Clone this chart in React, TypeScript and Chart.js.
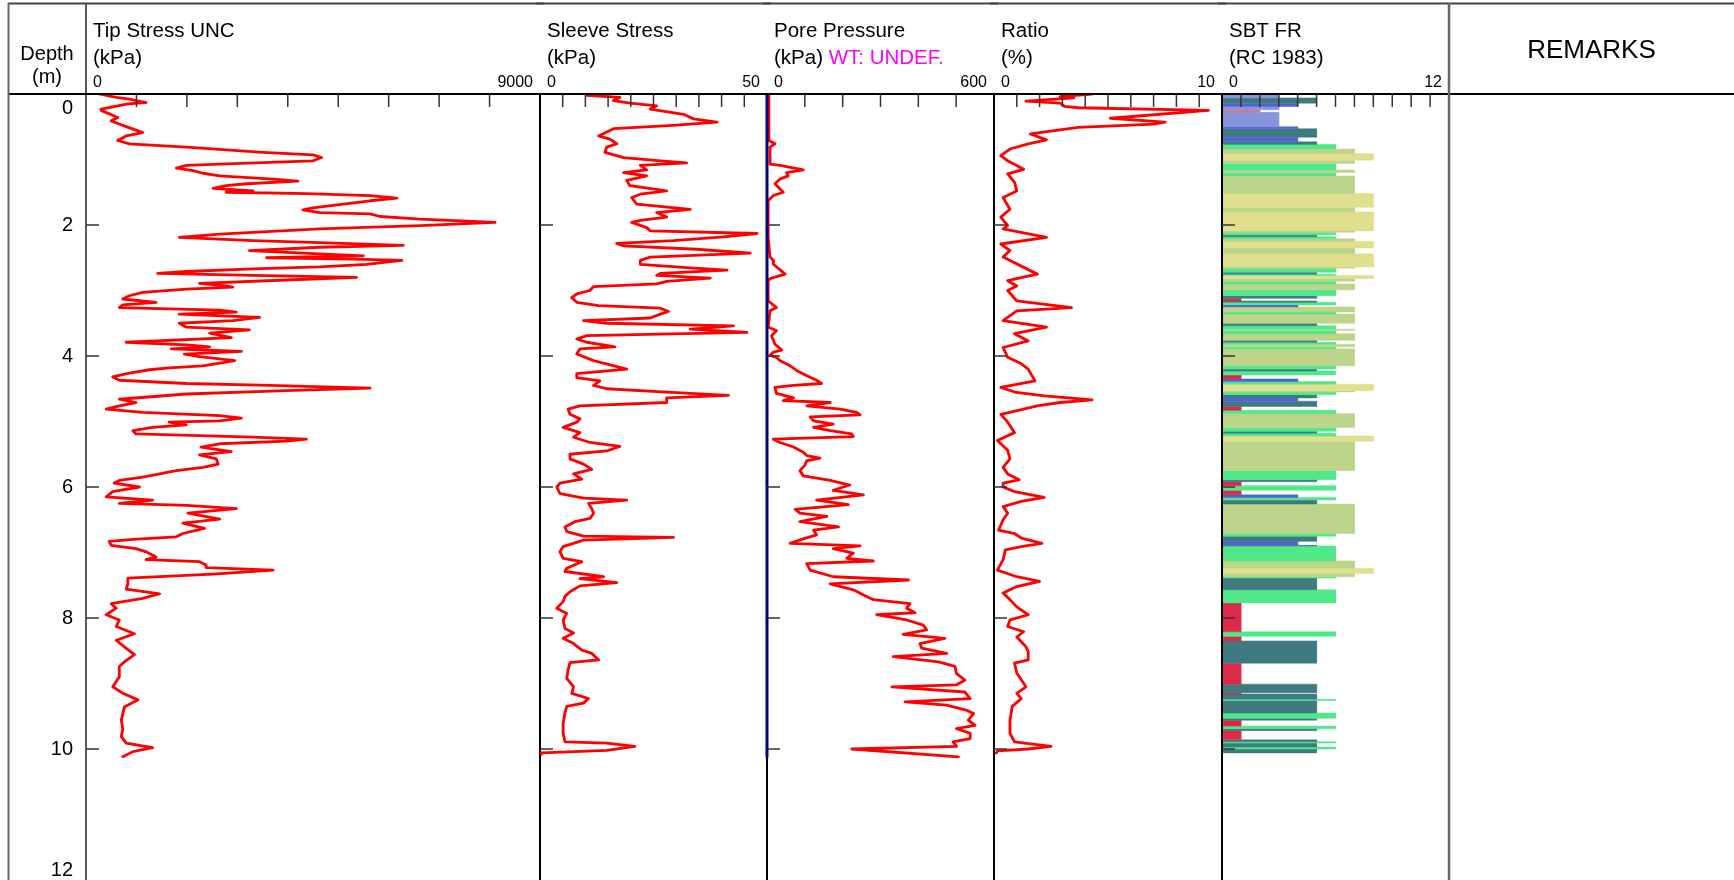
import React, { useEffect, useRef } from "react";
import { Chart, registerables } from "chart.js";

Chart.register(...registerables);

const FONT = '"Liberation Sans", Arial, Helvetica, sans-serif';

// ---------------- data ----------------
const depthTicks = [0, 2, 4, 6, 8, 10, 12];
const tipTicks = [1000, 2000, 3000, 4000, 5000, 6000, 7000, 8000];
const sleeveTicks = [5, 10, 15, 20, 25, 30, 35, 40, 45];
const poreTicks = [100, 200, 300, 400, 500];
const ratioTicks = [1, 2, 3, 4, 5, 6, 7, 8, 9];
const sbtTicks = [1, 2, 3, 4, 5, 6, 7, 8, 9, 10, 11];

// [depth (m), tip stress (kPa)]
const tipProfile = [
  [0.0, 265], [0.05, 600], [0.08, 860], [0.13, 1190], [0.15, 830], [0.18, 630], [0.23, 300], [0.25, 300], [0.36, 630], [0.41, 500],
  [0.48, 730], [0.59, 1125], [0.64, 795], [0.71, 630], [0.76, 860], [0.81, 1990], [0.89, 3510], [0.93, 4500], [0.97, 4670], [1.02, 4500],
  [1.07, 2650], [1.09, 1990], [1.13, 1790], [1.17, 2120], [1.21, 2320], [1.25, 2650], [1.3, 3710], [1.33, 4200], [1.37, 3180], [1.4, 2780],
  [1.44, 2520], [1.48, 3310], [1.5, 2780], [1.52, 4370], [1.55, 5630], [1.59, 6160], [1.63, 5630], [1.67, 5230], [1.7, 4900], [1.74, 4500],
  [1.77, 4300], [1.81, 4630], [1.83, 5630], [1.87, 5830], [1.91, 6620], [1.96, 8110], [2.01, 6620], [2.06, 4630], [2.14, 2650], [2.19, 1850],
  [2.24, 3310], [2.27, 4630], [2.31, 6290], [2.34, 4630], [2.39, 3240], [2.44, 4630], [2.47, 5500], [2.5, 3580], [2.52, 5300], [2.54, 6260],
  [2.6, 5560], [2.64, 4630], [2.67, 3310], [2.71, 1990], [2.74, 1420], [2.77, 3310], [2.8, 5360], [2.84, 3970], [2.89, 2250], [2.93, 2780],
  [2.95, 2910], [2.98, 1990], [3.03, 1125], [3.08, 860], [3.13, 730], [3.18, 1390], [3.22, 730], [3.26, 660], [3.3, 2650], [3.33, 2980],
  [3.36, 1850], [3.41, 3440], [3.46, 2910], [3.5, 1850], [3.56, 1990], [3.6, 3240], [3.65, 2450], [3.72, 2880], [3.79, 795], [3.83, 1990],
  [3.86, 2450], [3.89, 1690], [3.93, 3080], [3.97, 1950], [4.01, 2250], [4.07, 2950], [4.15, 2320], [4.18, 1650], [4.21, 1260], [4.26, 860],
  [4.32, 530], [4.37, 660], [4.42, 1990], [4.45, 3640], [4.49, 5630], [4.53, 3970], [4.58, 1990], [4.66, 660], [4.71, 990], [4.76, 660],
  [4.81, 400], [4.86, 1125], [4.91, 2650], [4.95, 3080], [4.99, 2650], [5.01, 1650], [5.05, 1990], [5.09, 1320], [5.14, 930], [5.19, 990],
  [5.24, 3310], [5.27, 4370], [5.3, 3970], [5.34, 2650], [5.39, 2280], [5.46, 2880], [5.51, 2250], [5.57, 2580], [5.65, 2620], [5.7, 2320],
  [5.75, 1790], [5.8, 1460], [5.85, 1125], [5.9, 660], [5.94, 560], [6.0, 1060], [6.07, 530], [6.15, 400], [6.2, 1320], [6.25, 660],
  [6.28, 1990], [6.33, 2980], [6.4, 2020], [6.49, 2650], [6.55, 1920], [6.63, 2350], [6.71, 1920], [6.76, 1790], [6.8, 930], [6.83, 460],
  [6.89, 500], [6.94, 990], [6.99, 1190], [7.07, 1390], [7.11, 1190], [7.14, 2250], [7.19, 2380], [7.23, 2380], [7.27, 3710], [7.33, 2520],
  [7.39, 830], [7.48, 830], [7.56, 795], [7.63, 1460], [7.7, 1125], [7.78, 500], [7.85, 600], [7.95, 400], [8.03, 660], [8.13, 600],
  [8.24, 960], [8.34, 600], [8.44, 760], [8.56, 960], [8.67, 760], [8.74, 660], [8.9, 660], [9.05, 530], [9.15, 730], [9.25, 1030],
  [9.36, 760], [9.46, 730], [9.56, 700], [9.69, 730], [9.81, 700], [9.91, 795], [9.98, 1320], [10.04, 930], [10.12, 730],
];

// [depth (m), sleeve stress (kPa)]
const sleeveProfile = [
  [0.02, 10.3], [0.05, 17.6], [0.1, 16.2], [0.14, 19.8], [0.18, 25.7], [0.23, 24.3], [0.31, 31.6], [0.38, 33.8], [0.43, 39.0], [0.48, 29.4],
  [0.53, 16.2], [0.64, 12.9], [0.69, 15.4], [0.76, 16.9], [0.81, 14.7], [0.89, 14.3], [0.97, 18.4], [1.02, 26.5], [1.05, 32.3], [1.09, 22.1],
  [1.16, 23.5], [1.2, 18.4], [1.25, 23.5], [1.32, 19.1], [1.4, 19.8], [1.48, 27.9], [1.53, 22.1], [1.58, 20.2], [1.68, 21.3], [1.76, 33.1],
  [1.81, 25.7], [1.88, 27.9], [1.93, 22.1], [1.96, 20.2], [2.04, 23.5], [2.09, 24.3], [2.13, 47.8], [2.18, 40.4], [2.24, 29.4], [2.28, 16.9],
  [2.32, 18.4], [2.37, 34.5], [2.43, 46.3], [2.49, 24.3], [2.54, 22.1], [2.6, 22.1], [2.65, 32.3], [2.69, 41.2], [2.74, 26.5], [2.77, 25.7],
  [2.81, 37.5], [2.86, 27.9], [2.9, 25.7], [2.94, 11.8], [3.0, 11.0], [3.05, 8.1], [3.11, 7.0], [3.18, 8.1], [3.23, 12.9], [3.27, 26.5],
  [3.32, 28.3], [3.36, 26.5], [3.42, 24.3], [3.46, 9.6], [3.5, 14.7], [3.54, 42.6], [3.59, 33.1], [3.64, 45.6], [3.69, 10.3], [3.74, 8.1],
  [3.79, 10.3], [3.86, 16.5], [3.89, 8.8], [3.97, 8.1], [4.07, 11.8], [4.2, 19.1], [4.27, 8.1], [4.33, 8.1], [4.38, 13.2], [4.45, 11.8],
  [4.5, 14.7], [4.55, 27.9], [4.6, 41.5], [4.64, 27.9], [4.71, 27.9], [4.76, 8.8], [4.81, 6.2], [4.89, 6.6], [4.96, 8.8], [5.01, 8.1],
  [5.09, 5.1], [5.17, 8.8], [5.24, 7.4], [5.32, 11.0], [5.38, 17.6], [5.45, 14.7], [5.5, 6.6], [5.57, 6.6], [5.65, 9.6], [5.73, 11.4],
  [5.8, 7.4], [5.88, 9.2], [5.94, 4.4], [6.0, 3.7], [6.1, 4.4], [6.17, 9.6], [6.2, 19.1], [6.25, 10.7], [6.33, 11.4], [6.4, 11.8],
  [6.48, 11.0], [6.53, 7.7], [6.61, 5.5], [6.68, 5.9], [6.75, 9.6], [6.77, 29.4], [6.81, 9.6], [6.91, 5.1], [6.99, 4.4], [7.09, 5.1],
  [7.14, 9.2], [7.24, 5.9], [7.29, 5.5], [7.37, 14.0], [7.4, 8.8], [7.46, 16.9], [7.51, 8.8], [7.6, 6.6], [7.67, 5.5], [7.75, 5.1],
  [7.85, 3.7], [7.93, 5.9], [8.03, 5.1], [8.16, 5.5], [8.23, 7.4], [8.31, 5.1], [8.39, 7.4], [8.49, 9.2], [8.54, 11.4], [8.64, 12.9],
  [8.68, 6.6], [8.79, 6.2], [8.92, 5.9], [9.05, 7.4], [9.15, 7.0], [9.23, 10.7], [9.3, 9.6], [9.35, 5.9], [9.45, 5.5], [9.61, 5.1],
  [9.76, 5.1], [9.89, 5.5], [9.91, 14.7], [9.96, 20.9], [10.02, 14.7], [10.06, 0.4], [10.08, 0.3],
];

// [depth (m), pore pressure (kPa)]
const poreProfile = [
  [0.0, 3], [0.36, 5], [0.71, 5], [0.76, 21], [0.81, 8], [1.07, 8], [1.09, 34], [1.16, 96], [1.2, 52], [1.25, 56],
  [1.3, 34], [1.37, 21], [1.5, 43], [1.55, 17], [1.6, 8], [1.63, 3], [2.19, 3], [2.49, 8], [2.54, 17], [2.6, 17],
  [2.75, 48], [2.82, 8], [2.85, 3], [3.16, 3], [3.18, 8], [3.26, 25], [3.31, 8], [3.56, 3], [3.61, 25], [3.69, 12],
  [3.82, 21], [3.91, 39], [3.94, 17], [3.99, 8], [4.02, 25], [4.07, 34], [4.15, 61], [4.22, 78], [4.3, 105], [4.37, 131],
  [4.42, 144], [4.45, 70], [4.48, 21], [4.57, 25], [4.64, 70], [4.68, 43], [4.71, 167], [4.76, 105], [4.81, 193], [4.86, 237],
  [4.9, 246], [4.93, 114], [4.99, 123], [5.04, 175], [5.09, 123], [5.14, 167], [5.19, 224], [5.23, 228], [5.27, 17], [5.32, 34],
  [5.39, 70], [5.47, 96], [5.52, 105], [5.56, 140], [5.6, 105], [5.67, 100], [5.75, 87], [5.83, 96], [5.9, 167], [5.97, 219],
  [6.05, 175], [6.12, 255], [6.2, 131], [6.27, 215], [6.34, 74], [6.4, 87], [6.45, 158], [6.53, 87], [6.61, 189], [6.66, 123],
  [6.73, 131], [6.8, 92], [6.86, 61], [6.9, 246], [6.94, 175], [7.01, 228], [7.09, 211], [7.13, 281], [7.17, 105], [7.27, 114],
  [7.37, 175], [7.42, 374], [7.48, 167], [7.57, 228], [7.65, 255], [7.72, 281], [7.78, 378], [7.85, 369], [7.92, 391], [7.95, 290],
  [8.03, 369], [8.11, 413], [8.18, 422], [8.25, 360], [8.31, 470], [8.39, 404], [8.46, 409], [8.54, 475], [8.59, 334], [8.67, 453],
  [8.74, 497], [8.85, 501], [8.95, 523], [9.02, 501], [9.05, 330], [9.13, 523], [9.23, 537], [9.28, 365], [9.33, 475], [9.41, 528],
  [9.46, 546], [9.56, 532], [9.64, 550], [9.69, 501], [9.76, 537], [9.84, 537], [9.89, 492], [9.96, 501], [10.0, 224], [10.12, 506],
];

// hydrostatic line (water table undefined -> zero)
const hydroLine = [[0.0, 0], [10.12, 0]];

// [depth (m), friction ratio (%)]
const ratioProfile = [
  [0.0, 4.3], [0.04, 2.9], [0.06, 3.5], [0.11, 1.4], [0.14, 2.9], [0.19, 3.1], [0.21, 3.7], [0.25, 9.4], [0.37, 5.1], [0.43, 7.5],
  [0.46, 7.0], [0.51, 3.7], [0.61, 1.6], [0.7, 2.3], [0.76, 1.5], [0.84, 0.7], [0.94, 0.3], [1.02, 0.6], [1.15, 1.3], [1.22, 0.6],
  [1.35, 0.9], [1.48, 1.0], [1.58, 0.4], [1.76, 0.7], [1.88, 0.3], [2.01, 0.6], [2.06, 0.4], [2.19, 2.3], [2.29, 0.3], [2.39, 0.7],
  [2.49, 0.4], [2.75, 1.9], [2.85, 0.6], [2.93, 1.0], [3.0, 0.6], [3.16, 1.0], [3.26, 3.4], [3.31, 1.0], [3.46, 0.4], [3.56, 2.3],
  [3.66, 0.9], [3.77, 1.5], [3.87, 0.4], [4.02, 0.6], [4.12, 1.2], [4.2, 1.5], [4.38, 1.8], [4.48, 0.3], [4.55, 0.9], [4.61, 2.2],
  [4.67, 4.3], [4.71, 2.9], [4.76, 1.9], [4.81, 1.3], [4.89, 0.3], [5.01, 0.6], [5.17, 0.9], [5.29, 0.15], [5.44, 0.6], [5.57, 0.7],
  [5.7, 0.4], [5.8, 0.6], [5.89, 1.1], [5.94, 0.4], [6.0, 0.4], [6.07, 0.9], [6.16, 2.2], [6.22, 1.2], [6.3, 0.4], [6.4, 0.6],
  [6.5, 0.4], [6.66, 0.2], [6.71, 0.9], [6.78, 1.2], [6.86, 2.1], [6.91, 1.2], [6.96, 0.5], [7.11, 0.4], [7.27, 0.15], [7.37, 1.0],
  [7.44, 2.0], [7.52, 1.0], [7.62, 0.4], [7.72, 0.7], [7.83, 1.0], [7.95, 1.5], [8.03, 0.7], [8.13, 0.6], [8.21, 1.3], [8.29, 1.0],
  [8.44, 1.4], [8.51, 1.5], [8.64, 1.5], [8.69, 0.9], [8.84, 1.0], [9.05, 1.4], [9.15, 1.0], [9.23, 1.2], [9.35, 0.8], [9.56, 0.7],
  [9.76, 0.7], [9.89, 0.9], [9.96, 2.5], [10.0, 1.5], [10.03, 0.15], [10.06, 0.1],
];

// [top depth, bottom depth, SBT zone (Robertson & Campanella 1983)]
const sbtLayers = [
  [0.0, 0.06, 3], [0.06, 0.14, 5], [0.14, 0.19, 4], [0.19, 0.24, 3], [0.24, 0.28, 2], [0.28, 0.5, 3], [0.5, 0.53, 4], [0.53, 0.66, 5],
  [0.66, 0.73, 4], [0.73, 0.77, 5], [0.77, 0.84, 6], [0.84, 0.91, 7], [0.91, 1.01, 8], [1.01, 1.06, 7], [1.06, 1.16, 6], [1.16, 1.2, 7],
  [1.2, 1.25, 6], [1.25, 1.52, 7], [1.52, 1.73, 8], [1.73, 1.8, 7], [1.8, 2.09, 8], [2.09, 2.11, 7], [2.11, 2.15, 6], [2.15, 2.18, 5],
  [2.18, 2.21, 6], [2.21, 2.25, 7], [2.25, 2.35, 8], [2.35, 2.44, 7], [2.44, 2.64, 8], [2.64, 2.66, 7], [2.66, 2.72, 6], [2.72, 2.75, 5],
  [2.75, 2.77, 6], [2.77, 2.82, 8], [2.82, 2.86, 7], [2.86, 2.9, 6], [2.9, 2.99, 7], [2.99, 3.08, 6], [3.08, 3.12, 5], [3.12, 3.16, 1],
  [3.16, 3.18, 5], [3.18, 3.22, 6], [3.22, 3.25, 4], [3.25, 3.33, 7], [3.33, 3.36, 6], [3.36, 3.5, 7], [3.5, 3.54, 5], [3.54, 3.59, 6],
  [3.59, 3.61, 7], [3.61, 3.66, 6], [3.66, 3.76, 7], [3.76, 3.79, 5], [3.79, 3.82, 6], [3.82, 3.86, 7], [3.86, 3.89, 6], [3.89, 4.15, 7],
  [4.15, 4.2, 6], [4.2, 4.23, 5], [4.23, 4.29, 6], [4.29, 4.35, 1], [4.35, 4.39, 4], [4.39, 4.43, 6], [4.43, 4.53, 8], [4.53, 4.55, 7],
  [4.55, 4.59, 6], [4.59, 4.64, 5], [4.64, 4.69, 4], [4.69, 4.77, 5], [4.77, 4.83, 1], [4.83, 4.88, 6], [4.88, 5.09, 7], [5.09, 5.15, 6],
  [5.15, 5.18, 5], [5.18, 5.22, 6], [5.22, 5.3, 8], [5.3, 5.75, 7], [5.75, 5.89, 6], [5.89, 5.92, 5], [5.92, 5.98, 1], [5.98, 6.05, 6],
  [6.05, 6.12, 1], [6.12, 6.16, 4], [6.16, 6.2, 6], [6.2, 6.26, 5], [6.26, 6.71, 7], [6.71, 6.75, 6], [6.75, 6.83, 5], [6.83, 6.89, 4],
  [6.89, 6.9, 5], [6.9, 7.13, 6], [7.13, 7.24, 7], [7.24, 7.32, 8], [7.32, 7.37, 7], [7.37, 7.39, 6], [7.39, 7.57, 5], [7.57, 7.77, 6],
  [7.77, 8.21, 1], [8.21, 8.28, 6], [8.28, 8.35, 1], [8.35, 8.69, 5], [8.69, 9.01, 1], [9.01, 9.14, 5], [9.14, 9.16, 1], [9.16, 9.24, 5],
  [9.24, 9.26, 6], [9.26, 9.45, 5], [9.45, 9.53, 6], [9.53, 9.56, 5], [9.56, 9.65, 1], [9.65, 9.69, 6], [9.69, 9.72, 5], [9.72, 9.86, 1],
  [9.86, 9.89, 5], [9.89, 9.91, 6], [9.91, 9.97, 5], [9.97, 10.0, 6], [10.0, 10.06, 5],
];

// ---------------- styles ----------------
const RED = "#ff0000";
const NAVY = "#000088";
const zoneColors = ["#ffffff", "#dc2a48", "#cf7a8a", "#8595dc", "#5560d8", "#3e7a80", "#4fe98a", "#bdd48b", "#dfdf8d"];

const PAGE_W = 1734;
const PAGE_H = 880;
const PLOT_TOP = 94;

function strokeLine(ctx: CanvasRenderingContext2D, x1: number, y1: number, x2: number, y2: number, color: string, w: number) {
  ctx.save();
  ctx.strokeStyle = color;
  ctx.lineWidth = w;
  ctx.beginPath();
  ctx.moveTo(x1, y1);
  ctx.lineTo(x2, y2);
  ctx.stroke();
  ctx.restore();
}

type TrackDef = {
  key: string;
  left: number;
  width: number;
  padL: number;
  padR: number;
  min: number;
  max: number;
  ticks: number[];
  title: string[];
  extra?: string;
  minLabel: string;
  maxLabel: string;
  depthAxis?: boolean;
  remarks?: boolean;
  sepAbove?: boolean;
  datasets: () => any[];
};

const toPoints = (pairs: number[][]) => pairs.map(([d, v]) => ({ x: v, y: d }));

const lineSet = (pairs: number[][], color: string, width: number) => ({
  data: toPoints(pairs),
  borderColor: color,
  backgroundColor: color,
  borderWidth: width,
  pointRadius: 0,
  fill: false,
  tension: 0,
  borderJoinStyle: "round",
  borderCapStyle: "round",
});

const hydroSet = () => ({
  ...lineSet(hydroLine, NAVY, 3),
  borderCapStyle: "butt",
  clip: { left: 3, right: 0, top: 0, bottom: 0 },
});

const sbtSets = () =>
  sbtLayers.map(([top, bot, z]) => ({
    data: [
      { x: 0, y: top },
      { x: z, y: top },
      { x: z, y: bot },
      { x: 0, y: bot },
    ],
    backgroundColor: zoneColors[z],
    borderColor: zoneColors[z],
    borderWidth: 0.5,
    fill: "shape",
    pointRadius: 0,
    tension: 0,
  }));

const tracks: TrackDef[] = [
  {
    key: "tip", left: 0, width: 544, padL: 86, padR: 4, min: 0, max: 9000, ticks: tipTicks,
    title: ["Tip Stress UNC", "(kPa)"], minLabel: "0", maxLabel: "9000", depthAxis: true,
    datasets: () => [lineSet(tipProfile, RED, 2.8)],
  },
  {
    key: "sleeve", left: 536, width: 235, padL: 4, padR: 4, min: 0, max: 50, ticks: sleeveTicks,
    title: ["Sleeve Stress", "(kPa)"], minLabel: "0", maxLabel: "50",
    datasets: () => [lineSet(sleeveProfile, RED, 2.8)],
  },
  {
    key: "pore", left: 763, width: 235, padL: 4, padR: 4, min: 0, max: 600, ticks: poreTicks,
    title: ["Pore Pressure", "(kPa)"], extra: "WT: UNDEF.", minLabel: "0", maxLabel: "600",
    datasets: () => [hydroSet(), lineSet(poreProfile, RED, 2.8)],
  },
  {
    key: "ratio", left: 990, width: 236, padL: 4, padR: 4, min: 0, max: 10, ticks: ratioTicks,
    title: ["Ratio", "(%)"], minLabel: "0", maxLabel: "10",
    datasets: () => [lineSet(ratioProfile, RED, 2.8)],
  },
  {
    key: "sbt", left: 1218, width: PAGE_W - 1218, padL: 4, padR: PAGE_W - 1449, min: 0, max: 12, ticks: sbtTicks,
    title: ["SBT FR", "(RC 1983)"], minLabel: "0", maxLabel: "12", remarks: true, sepAbove: true,
    datasets: sbtSets,
  },
];

function makeDeco(t: TrackDef) {
  const drawSep = (chart: any) => {
    const a = chart.chartArea;
    if (t.depthAxis) strokeLine(chart.ctx, a.left, 3, a.left, PAGE_H, "#222", 1.5);
    else strokeLine(chart.ctx, a.left, a.top, a.left, PAGE_H, "#000", 2);
  };
  return {
    id: "deco_" + t.key,
    beforeDatasetsDraw(chart: any) {
      if (!t.sepAbove) drawSep(chart);
    },
    afterDatasetsDraw(chart: any) {
      const ctx: CanvasRenderingContext2D = chart.ctx;
      const a = chart.chartArea;
      const xs = chart.scales.x;
      const ys = chart.scales.y;
      if (t.sepAbove) drawSep(chart);
      const x0 = t.depthAxis ? 8 : 0;
      strokeLine(ctx, x0, 3.5, chart.width, 3.5, "#444", 2);
      strokeLine(ctx, x0, a.top, chart.width, a.top, "#000", 2);

      // inner tick marks (value axis, along the top)
      for (const v of t.ticks) {
        const px = xs.getPixelForValue(v);
        strokeLine(ctx, px, a.top, px, a.top + 13, "#333", 1.5);
      }
      // inner tick marks (depth axis, along the left edge)
      for (const d of depthTicks) {
        if (d <= ys.min || d >= ys.max) continue;
        const py = ys.getPixelForValue(d);
        strokeLine(ctx, a.left, py, a.left + 13, py, "#333", 1.5);
      }

      ctx.save();
      ctx.fillStyle = "#000";
      ctx.textBaseline = "alphabetic";
      ctx.textAlign = "left";
      ctx.font = `20.5px ${FONT}`;
      ctx.fillText(t.title[0], a.left + 7, 37);
      ctx.fillText(t.title[1], a.left + 7, 64);
      if (t.extra) {
        const w = ctx.measureText(t.title[1] + " ").width;
        ctx.fillStyle = "#ff00ff";
        ctx.fillText(t.extra, a.left + 7 + w, 64);
        ctx.fillStyle = "#000";
      }
      ctx.font = `16px ${FONT}`;
      ctx.fillText(t.minLabel, a.left + 7, 87);
      ctx.textAlign = "right";
      ctx.fillText(t.maxLabel, a.right - 7, 87);

      if (t.depthAxis) {
        strokeLine(ctx, 8.5, 3, 8.5, PAGE_H, "#666", 2);
        ctx.font = `20px ${FONT}`;
        ctx.textAlign = "center";
        ctx.fillText("Depth", 47, 59.5);
        ctx.fillText("(m)", 47, 83);
        ctx.textAlign = "right";
        ctx.textBaseline = "middle";
        depthTicks.forEach((d, i) => {
          let py = ys.getPixelForValue(d);
          if (i === 0) py += 14;
          else if (i === depthTicks.length - 1) py -= 10;
          ctx.fillText(String(d), 73, py);
        });
      }
      if (t.remarks) {
        strokeLine(ctx, a.right, 3, a.right, PAGE_H, "#666", 2.5);
        ctx.font = `26px ${FONT}`;
        ctx.textAlign = "center";
        ctx.textBaseline = "alphabetic";
        ctx.fillText("REMARKS", (a.right + chart.width) / 2, 58);
      }
      ctx.restore();
    },
  };
}

function buildConfig(t: TrackDef): any {
  return {
    type: "line",
    data: { datasets: t.datasets() },
    options: {
      animation: false,
      responsive: false,
      maintainAspectRatio: false,
      devicePixelRatio: 1,
      indexAxis: "y",
      events: [],
      layout: { padding: { left: t.padL, right: t.padR, top: PLOT_TOP, bottom: 0 }, autoPadding: false },
      plugins: { legend: { display: false }, tooltip: { enabled: false }, title: { display: false } },
      scales: {
        x: { type: "linear", min: t.min, max: t.max, display: false },
        y: { type: "linear", min: 0, max: 12, reverse: true, display: false },
      },
    },
    plugins: [makeDeco(t)],
  };
}

export default function App() {
  const r0 = useRef<HTMLCanvasElement>(null);
  const r1 = useRef<HTMLCanvasElement>(null);
  const r2 = useRef<HTMLCanvasElement>(null);
  const r3 = useRef<HTMLCanvasElement>(null);
  const r4 = useRef<HTMLCanvasElement>(null);
  const refs = [r0, r1, r2, r3, r4];

  useEffect(() => {
    document.body.style.margin = "0";
    const charts = tracks.map((t, i) => new Chart(refs[i].current as HTMLCanvasElement, buildConfig(t)));
    return () => charts.forEach((c) => c.destroy());
  }, []);

  return (
    <div style={{ position: "relative", width: PAGE_W, height: PAGE_H, overflow: "hidden", background: "#fff" }}>
      {tracks.map((t, i) => (
        <canvas
          key={t.key}
          ref={refs[i]}
          width={t.width}
          height={PAGE_H}
          style={{ position: "absolute", left: t.left, top: 0, width: t.width, height: PAGE_H }}
        />
      ))}
    </div>
  );
}
